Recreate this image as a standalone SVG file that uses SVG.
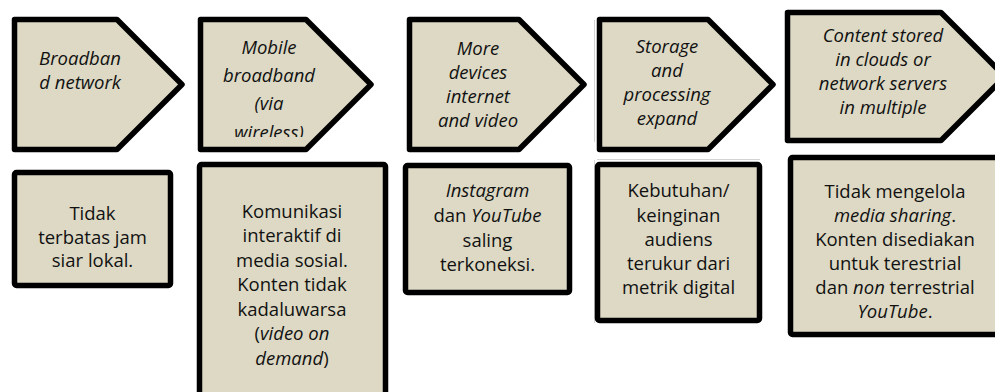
<svg xmlns="http://www.w3.org/2000/svg" width="995" height="392" viewBox="0 0 995 392">
<style>
.shape{fill:#DDD9C4;stroke:#000;stroke-width:5.5;stroke-linejoin:round}
text{font-family:"Open Sans","Noto Sans","Liberation Sans",sans-serif;font-size:18.5px;fill:#111;text-anchor:middle}
.it{font-style:italic}
.faint{stroke:#d4d4d4;stroke-width:1;fill:none}
</style>
<defs>
<clipPath id="clip2"><rect x="200" y="20" width="170" height="117"/></clipPath>
</defs>
<rect width="995" height="392" fill="#fff"/>
<g id="artifacts">
<line class="faint" x1="594.5" y1="20" x2="594.5" y2="142"/>
<line class="faint" x1="594.5" y1="160" x2="594.5" y2="323"/>
<line class="faint" x1="597" y1="159.5" x2="760" y2="159.5"/>
</g>
<g id="connectors"></g>
<g id="step1">
<path class="shape" d="M14.5,19.5 L117,19.5 L182,84.5 L117,149.5 L14.5,149.5 Z"/>
<text class="it"><tspan x="80" y="65">Broadban</tspan><tspan x="80" y="89">d network</tspan></text>
</g>
<g id="step2">
<path class="shape" d="M200.5,19.5 L306,19.5 L371,84.5 L306,149.5 L200.5,149.5 Z"/>
<text class="it" clip-path="url(#clip2)"><tspan x="269" y="54">Mobile</tspan><tspan x="269" y="82">broadband</tspan><tspan x="269" y="110">(via</tspan><tspan x="269" y="139">wireless)</tspan></text>
</g>
<g id="step3">
<path class="shape" d="M409.5,19.5 L519,19.5 L584,84.5 L519,149.5 L409.5,149.5 Z"/>
<text class="it"><tspan x="478" y="55">More</tspan><tspan x="478" y="79">devices</tspan><tspan x="478" y="103">internet</tspan><tspan x="478" y="127">and video</tspan></text>
</g>
<g id="step4">
<path class="shape" d="M599.5,19.5 L708,19.5 L773,84.5 L708,149.5 L599.5,149.5 Z"/>
<text class="it"><tspan x="667" y="53">Storage</tspan><tspan x="667" y="77">and</tspan><tspan x="667" y="101">processing</tspan><tspan x="667" y="125">expand</tspan></text>
</g>
<g id="step5">
<path class="shape" d="M787.5,12.5 L941,12.5 L1005,76.5 L941,140.5 L787.5,140.5 Z"/>
<text class="it"><tspan x="883" y="42">Content stored</tspan><tspan x="883" y="66">in clouds or</tspan><tspan x="883" y="90">network servers</tspan><tspan x="883" y="114">in multiple</tspan></text>
</g>
<g id="desc1">
<rect class="shape" x="14.5" y="172.5" width="156" height="113" rx="2"/>
<text><tspan x="92.5" y="220">Tidak</tspan><tspan x="92.5" y="243.5">terbatas jam</tspan><tspan x="92.5" y="267">siar lokal.</tspan></text>
</g>
<g id="desc2">
<rect class="shape" x="199.5" y="164.5" width="186" height="250" rx="2"/>
<text><tspan x="292" y="218">Komunikasi</tspan><tspan x="292" y="242">interaktif di</tspan><tspan x="292" y="266.5">media sosial.</tspan><tspan x="292" y="291">Konten tidak</tspan><tspan x="292" y="315.5">kadaluwarsa</tspan><tspan x="292" y="340">(<tspan class="it">video on</tspan></tspan><tspan x="292" y="364.5"><tspan class="it">demand</tspan>)</tspan></text>
</g>
<g id="desc3">
<rect class="shape" x="405.5" y="165.5" width="164" height="127" rx="2"/>
<text><tspan x="487.5" y="197" class="it">Instagram</tspan><tspan x="487.5" y="222">dan <tspan class="it">YouTube</tspan></tspan><tspan x="487.5" y="246.5">saling</tspan><tspan x="487.5" y="271">terkoneksi.</tspan></text>
</g>
<g id="desc4">
<rect class="shape" x="597.5" y="164.5" width="162" height="156" rx="2"/>
<text><tspan x="678.5" y="197">Kebutuhan/</tspan><tspan x="678.5" y="221.5">keinginan</tspan><tspan x="678.5" y="246">audiens</tspan><tspan x="678.5" y="270">terukur dari</tspan><tspan x="678.5" y="293.5">metrik digital</tspan></text>
</g>
<g id="desc5">
<rect class="shape" x="790.5" y="157.5" width="250" height="177" rx="2"/>
<text><tspan x="895" y="198">Tidak mengelola</tspan><tspan x="895" y="222"><tspan class="it">media sharing</tspan>.</tspan><tspan x="895" y="246">Konten disediakan</tspan><tspan x="895" y="270">untuk terestrial</tspan><tspan x="895" y="294">dan <tspan class="it">non</tspan> terrestrial</tspan><tspan x="895" y="318"><tspan class="it">YouTube</tspan>.</tspan></text>
</g>
</svg>
